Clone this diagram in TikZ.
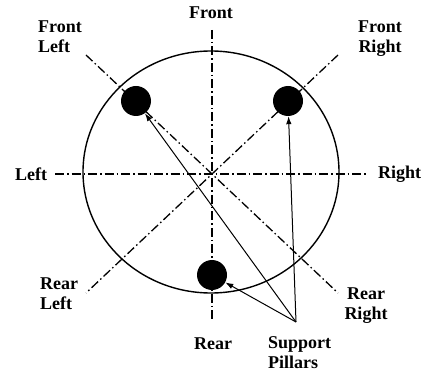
\documentclass[tikz,border=0pt]{standalone}
\usepackage{fontspec}
\setmainfont{Liberation Serif}
\usetikzlibrary{arrows.meta}
\begin{document}
\begin{tikzpicture}[x=1pt,y=-1pt,
  axisline/.style={line width=1.3pt, dash pattern=on 9pt off 3pt on 1.5pt off 3pt},
  lbl/.style={font=\bfseries\fontsize{18}{20}\selectfont, inner sep=0pt},
  pillar/.style={circle, fill=black, minimum size=30pt, inner sep=0pt},
  arr/.style={line width=1pt, -{Latex[length=8pt,width=5.5pt]}}]
\useasboundingbox (0,0) rectangle (426,374);
% outline
\draw[line width=1.4pt] (211,172) ellipse [x radius=128, y radius=121];
% axis end points
\coordinate (top) at (212,30);
\coordinate (bot) at (212,322);
\coordinate (lft) at (55,174);
\coordinate (rgt) at (368,174);
\coordinate (d1) at (86,55);
\coordinate (d2) at (338,55);
\coordinate (d3) at (86,293);
\coordinate (d4) at (338,293);
\draw[axisline] (top) -- (bot);
\draw[axisline] (lft) -- (rgt);
\draw[axisline] (d1) -- (d4);
\draw[axisline] (d2) -- (d3);
% pillars
\node[pillar] (fl) at (136,101) {};
\node[pillar] (fr) at (288,101) {};
\node[pillar] (rp) at (212,275) {};
% arrows
\coordinate (src) at (296,322);
\draw[arr] (src) -- (fl);
\draw[arr] (src) -- (fr);
\draw[arr] (src) -- (rp);
% labels
\node[lbl, anchor=base] (tF) at (211,19) {Front};
\node[lbl, anchor=base] (tR) at (213,349) {Rear};
\node[lbl, anchor=west] (tL) at (15,174) {Left};
\node[lbl, anchor=west] (tRi) at (378,174) {Right};
\node[lbl, align=left, anchor=north west] (tFL) at (38,21) {Front\\Left};
\node[lbl, align=center, anchor=north] (tFR) at (380,21) {Front\\Right};
\node[lbl, align=left, anchor=north west] (tRL) at (40,278) {Rear\\Left};
\node[lbl, align=center, anchor=north] (tRR) at (366,288) {Rear\\Right};
\node[lbl, align=left, anchor=north west] (tSP) at (268,336) {Support\\Pillars};
\end{tikzpicture}
\end{document}
